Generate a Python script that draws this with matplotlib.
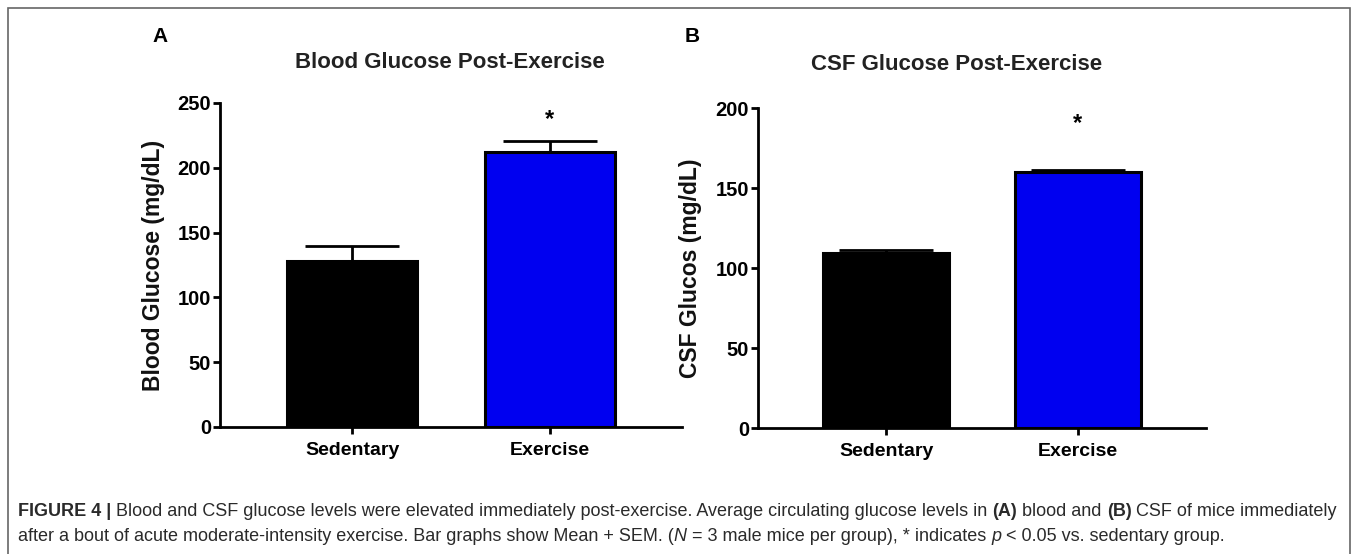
import numpy as np
import matplotlib
matplotlib.use("Agg")
import matplotlib.pyplot as plt
from matplotlib.patches import Rectangle

# ---- data ----
groups = ["Sedentary", "Exercise"]
blood_mean = [128, 212]
blood_sem = [12, 9]
csf_mean = [109.5, 160]
csf_sem = [2, 1.5]
bar_colors = ["#000000", "#0000F0"]

W, H = 1357, 554
fig = plt.figure(figsize=(W / 100, H / 100), dpi=100)
plt.rcParams["font.family"] = ["Liberation Sans", "DejaVu Sans"]


def px_axes(x0, x1, y_top, y_bot):
    return fig.add_axes([x0 / W, 1 - y_bot / H, (x1 - x0) / W, (y_bot - y_top) / H])


def bar_panel(ax, means, sems, ymax, step, ylabel, star_y, ylab_x):
    x = np.arange(len(groups))
    ax.bar(x, means, width=0.66, color=bar_colors, edgecolor="black", linewidth=2.2, zorder=2)
    ax.errorbar(x, means, yerr=[np.zeros(len(sems)), sems], fmt="none", ecolor="black",
                elinewidth=2, capsize=34, capthick=2, zorder=1)
    ax.text(x[1], star_y, "*", ha="center", va="center", fontsize=17, fontweight="bold")
    ax.set_xlim(-0.67, 1.67)
    ax.set_ylim(0, ymax)
    ax.set_yticks(np.arange(0, ymax + 1, step))
    ax.set_xticks(x)
    ax.set_xticklabels(groups, fontsize=14, fontweight="bold")
    for lab in ax.get_yticklabels():
        lab.set_fontsize(14.5)
        lab.set_fontweight("bold")
    ax.set_ylabel(ylabel, fontsize=16.5, fontweight="bold", color="#111111")
    ax.yaxis.set_label_coords(ylab_x, 0.5)
    ax.spines["top"].set_visible(False)
    ax.spines["right"].set_visible(False)
    ax.spines["left"].set_linewidth(2)
    ax.spines["bottom"].set_linewidth(2)
    ax.tick_params(direction="out", length=5, width=2)
    ax.tick_params(axis="y", pad=1.5)
    ax.tick_params(axis="x", pad=6)


axA = px_axes(220, 682, 103, 427)
bar_panel(axA, blood_mean, blood_sem, 250, 50, "Blood Glucose (mg/dL)", 237, -0.119)
axB = px_axes(758, 1206, 108, 428)
bar_panel(axB, csf_mean, csf_sem, 200, 50, "CSF Glucos (mg/dL)", 190, -0.125)

fig.text(450 / W, 1 - 62 / H, "Blood Glucose Post-Exercise", fontsize=16, fontweight="bold",
         ha="center", va="center", color="#222222")
fig.text(957 / W, 1 - 65 / H, "CSF Glucose Post-Exercise", fontsize=16, fontweight="bold",
         ha="center", va="center", color="#222222")

fig.text(160 / W, 1 - 36 / H, "A", fontsize=15, fontweight="bold", ha="center", va="center")
fig.text(692 / W, 1 - 36 / H, "B", fontsize=15, fontweight="bold", ha="center", va="center")

# frame around the whole figure (bottom edge falls outside the image)
fig.patches.append(Rectangle((8 / W, -10 / H), (1350 - 8) / W, (554 + 10 - 8) / H,
                             transform=fig.transFigure, fill=False, edgecolor="#666666",
                             linewidth=1.2))

# ---- caption, drawn piece by piece ----
line1 = [("FIGURE 4 |", "bold", "normal"),
         (" Blood and CSF glucose levels were elevated immediately post-exercise. Average circulating glucose levels in ", "normal", "normal"),
         ("(A)", "bold", "normal"), (" blood and ", "normal", "normal"),
         ("(B)", "bold", "normal"), (" CSF of mice immediately", "normal", "normal")]
line2 = [("after a bout of acute moderate-intensity exercise. Bar graphs show Mean + SEM. (", "normal", "normal"),
         ("N", "normal", "italic"),
         (" = 3 male mice per group), * indicates ", "normal", "normal"),
         ("p", "normal", "italic"), (" < 0.05 vs. sedentary group.", "normal", "normal")]

renderer = fig.canvas.get_renderer()


def draw_line(pieces, y_px, size):
    x_px = 18
    for txt, wt, st in pieces:
        t = fig.text(x_px / W, 1 - y_px / H, txt, fontsize=size, fontweight=wt, fontstyle=st,
                     va="baseline", ha="left", color="#2a2a2a")
        bb = t.get_window_extent(renderer=renderer)
        x_px += bb.width
    return x_px


draw_line(line1, 516, 12.95)
draw_line(line2, 541, 12.95)

fig.savefig("out.png", dpi=100, facecolor="white")
